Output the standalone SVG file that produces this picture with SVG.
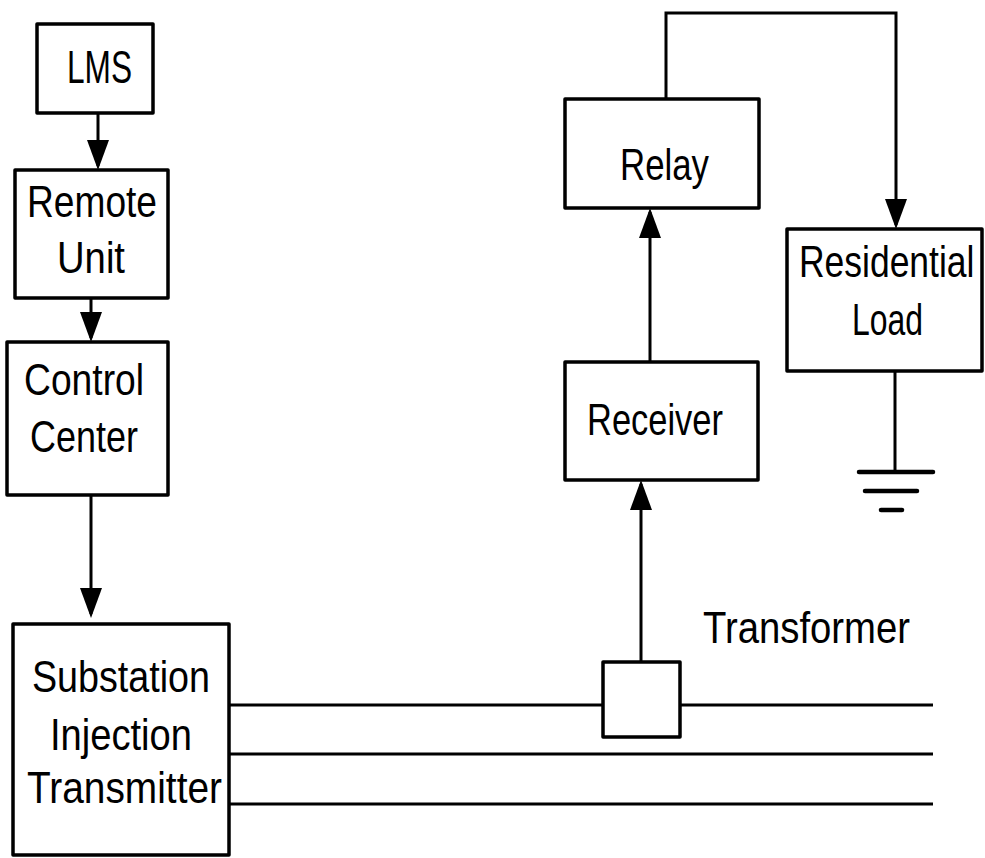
<svg xmlns="http://www.w3.org/2000/svg" width="985" height="858" viewBox="0 0 985 858">
<style>
.box{fill:#fff;stroke:#000;stroke-width:3.5;stroke-linejoin:round}
.ln{fill:none;stroke:#000;stroke-width:3;stroke-linecap:butt}
.gnd{fill:none;stroke:#000;stroke-width:4.5;stroke-linecap:round}
text{font-family:"Liberation Sans",Arial,sans-serif;font-size:44px;fill:#000}
</style>
<defs>
<marker id="ah" markerUnits="userSpaceOnUse" markerWidth="30" markerHeight="24" viewBox="0 0 30 24" refX="26" refY="12" orient="auto">
<path d="M0,1 L30,12 L0,23 z" fill="#000"/>
</marker>
</defs>
<rect width="985" height="858" fill="#fff"/>
<g id="connectors">
<line class="ln" x1="98" y1="113" x2="98" y2="166" marker-end="url(#ah)"/>
<line class="ln" x1="91" y1="298" x2="91" y2="338" marker-end="url(#ah)"/>
<line class="ln" x1="91" y1="495" x2="91" y2="614" marker-end="url(#ah)"/>
<line class="ln" x1="650" y1="362" x2="650" y2="212" marker-end="url(#ah)"/>
<line class="ln" x1="641" y1="662" x2="641" y2="484" marker-end="url(#ah)"/>
<polyline class="ln" points="666,99 666,13 896,13 896,225" marker-end="url(#ah)"/>
<line class="ln" x1="229" y1="705" x2="603" y2="705"/>
<line class="ln" x1="680" y1="705" x2="933" y2="705"/>
<line class="ln" x1="229" y1="754" x2="933" y2="754"/>
<line class="ln" x1="229" y1="804" x2="933" y2="804"/>
<line class="ln" x1="895" y1="371" x2="895" y2="472"/>
</g>
<g id="lms">
<rect class="box" x="37" y="24" width="116" height="89"/>
<text x="67" y="83" textLength="65" lengthAdjust="spacingAndGlyphs" style="font-size:47px">LMS</text>
</g>
<g id="remote-unit">
<rect class="box" x="15" y="170" width="153" height="128"/>
<text x="27" y="217" textLength="130" lengthAdjust="spacingAndGlyphs">Remote</text>
<text x="57" y="273" textLength="68" lengthAdjust="spacingAndGlyphs">Unit</text>
</g>
<g id="control-center">
<rect class="box" x="7" y="342" width="161" height="153"/>
<text x="24" y="395" textLength="120" lengthAdjust="spacingAndGlyphs">Control</text>
<text x="30" y="452" textLength="108" lengthAdjust="spacingAndGlyphs">Center</text>
</g>
<g id="substation">
<rect class="box" x="13" y="624" width="216" height="231"/>
<text x="32" y="692" textLength="178" lengthAdjust="spacingAndGlyphs">Substation</text>
<text x="50" y="750" textLength="142" lengthAdjust="spacingAndGlyphs">Injection</text>
<text x="27" y="803" textLength="195" lengthAdjust="spacingAndGlyphs">Transmitter</text>
</g>
<g id="relay">
<rect class="box" x="565" y="99" width="194" height="109"/>
<text x="620" y="180" textLength="89" lengthAdjust="spacingAndGlyphs">Relay</text>
</g>
<g id="receiver">
<rect class="box" x="565" y="362" width="193" height="118"/>
<text x="587" y="435" textLength="136" lengthAdjust="spacingAndGlyphs">Receiver</text>
</g>
<g id="residential-load">
<rect class="box" x="787" y="229" width="195" height="142"/>
<text transform="translate(799,277) scale(0.806,1)" x="0" y="0">Residential</text>
<text x="852" y="335" textLength="71" lengthAdjust="spacingAndGlyphs">Load</text>
</g>
<g id="transformer">
<rect class="box" x="603" y="662" width="77" height="75"/>
<text x="703" y="643" textLength="207" lengthAdjust="spacingAndGlyphs">Transformer</text>
</g>
<g id="ground">
<line class="gnd" x1="859" y1="472" x2="933" y2="472"/>
<line class="gnd" x1="865" y1="491" x2="917" y2="491"/>
<line class="gnd" x1="881" y1="510" x2="902" y2="510"/>
</g>
</svg>
